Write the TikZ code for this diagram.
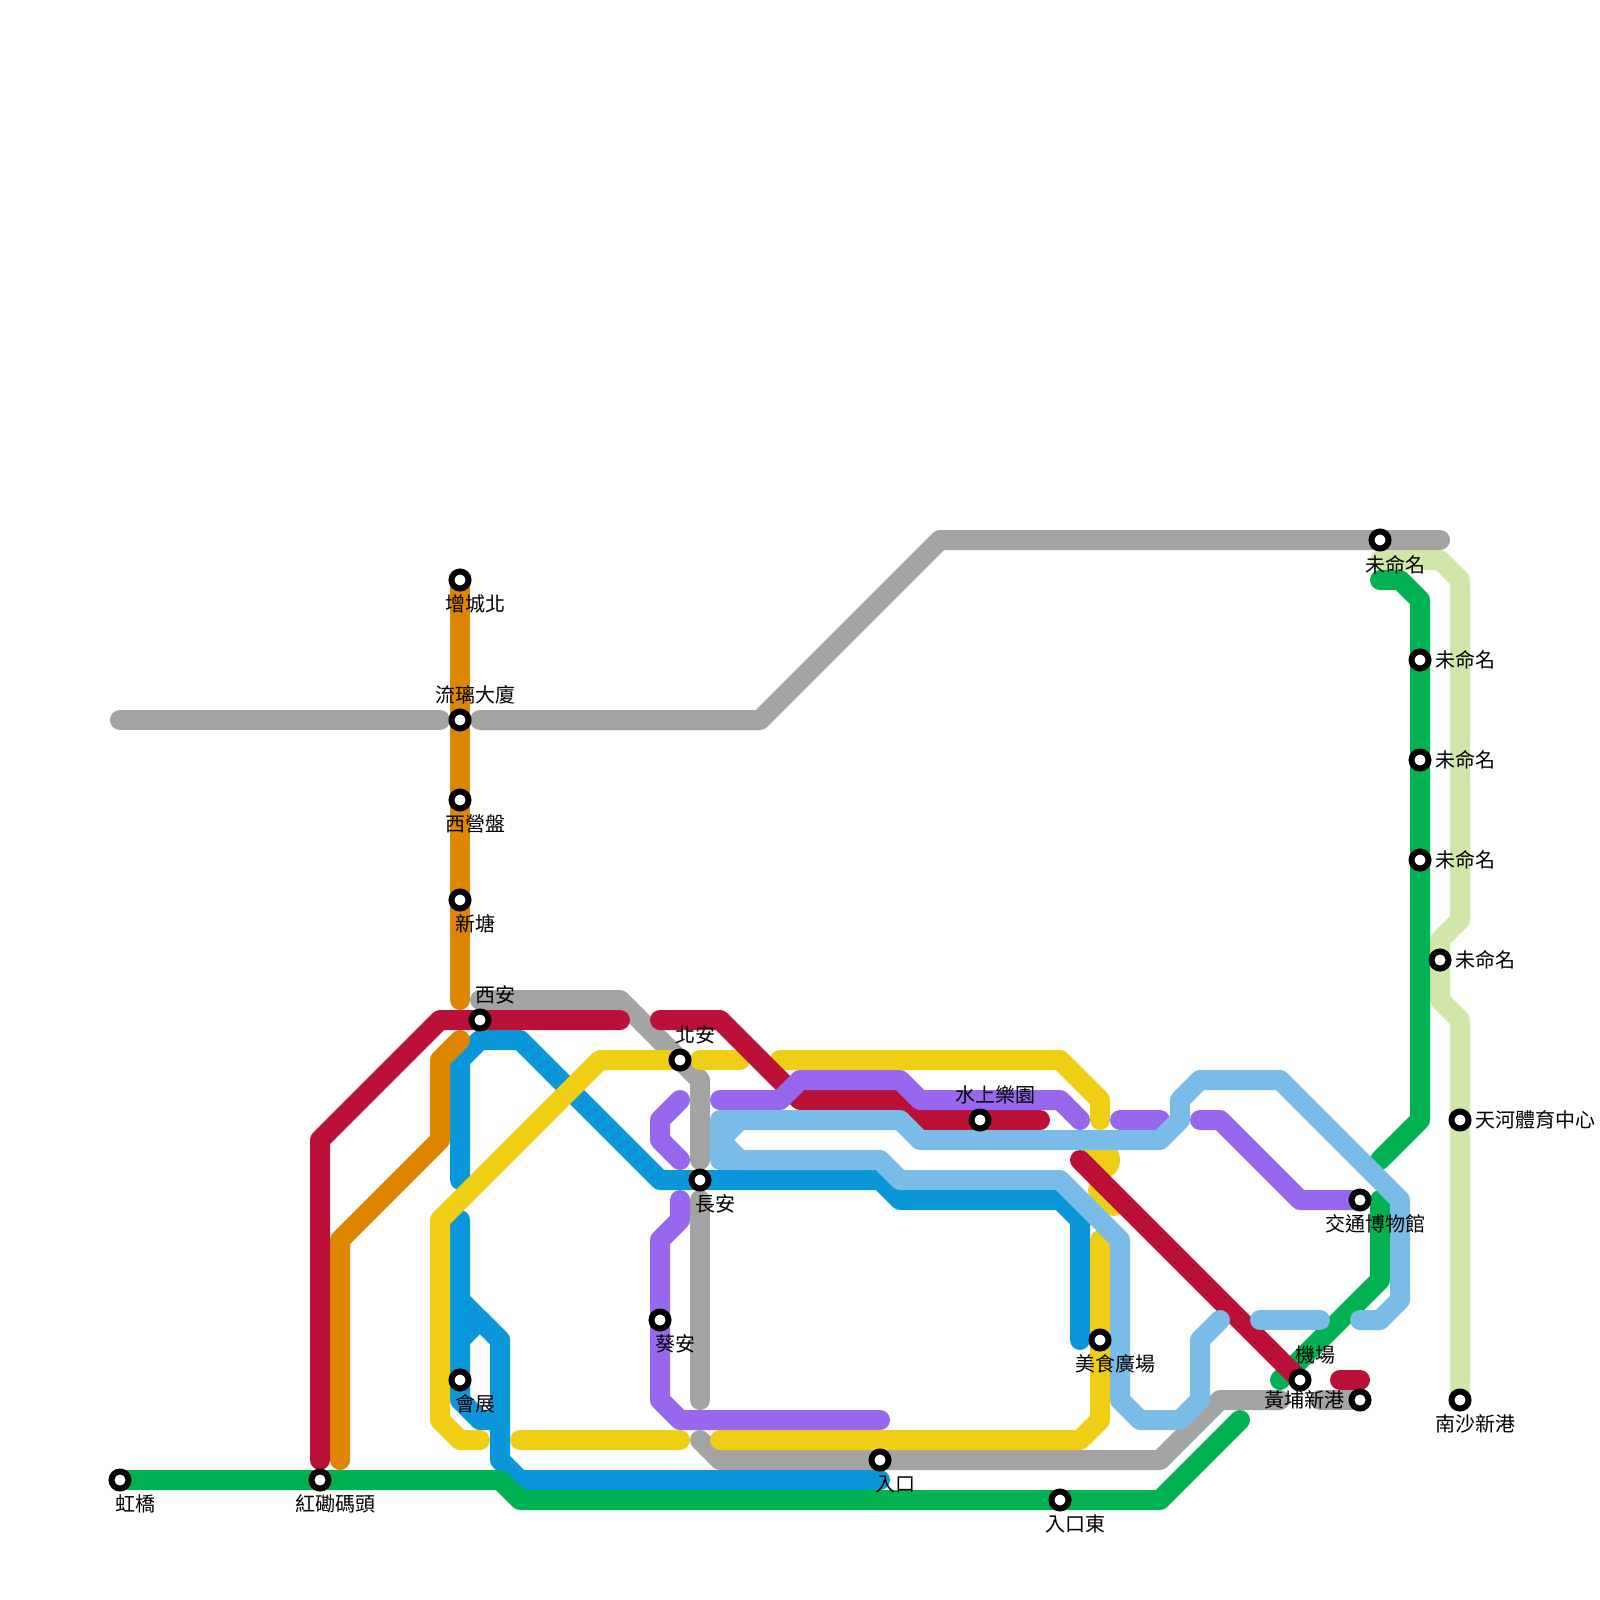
\documentclass[tikz,border=0pt]{standalone}
\usepackage{fontspec}
\setmainfont{Noto Sans CJK TC}
\usetikzlibrary{backgrounds}
\definecolor{lngray}{HTML}{A3A3A3}
\definecolor{lnred}{HTML}{BB1038}
\definecolor{lnorange}{HTML}{DF8600}
\definecolor{lnblue}{HTML}{0A97D9}
\definecolor{lnyellow}{HTML}{F0CE15}
\definecolor{lnpurple}{HTML}{9768ED}
\definecolor{lnsky}{HTML}{79BCE8}
\definecolor{lngreen}{HTML}{00B251}
\definecolor{lnpale}{HTML}{D1E6A9}

\begin{document}
\begin{tikzpicture}[
  x=1pt, y=-1pt,
  font=\fontsize{20}{24}\selectfont,
  ln/.style={line width=20pt, line cap=round, line join=round},
  stn/.style={circle, draw=black, fill=white, line width=6pt, minimum size=17pt, inner sep=0pt},
  lbl/.style={inner sep=0pt, text=black},
  lb/.style={lbl, xshift=15pt, yshift=-24pt},
  la/.style={lbl, xshift=15pt, yshift=25pt},
  lr/.style={lbl, anchor=west, xshift=15pt},
  ll/.style={lbl, anchor=east, xshift=-15pt}
]
\useasboundingbox (0,0) rectangle (1600,1600);

\node[stn] (hongqiao) at (120,1480) {};
\node[stn] (hunghom) at (320,1480) {};
\node[stn] (zengcheng) at (460,580) {};
\node[stn] (liuli) at (460,720) {};
\node[stn] (xiying) at (460,800) {};
\node[stn] (xintang) at (460,900) {};
\node[stn] (xian) at (480,1020) {};
\node[stn] (beian) at (680,1060) {};
\node[stn] (changan) at (700,1180) {};
\node[stn] (kwaian) at (660,1320) {};
\node[stn] (huizhan) at (460,1380) {};
\node[stn] (rukou) at (880,1460) {};
\node[stn] (rukoue) at (1060,1500) {};
\node[stn] (shuishang) at (980,1120) {};
\node[stn] (meishi) at (1100,1340) {};
\node[stn] (jiaotong) at (1360,1200) {};
\node[stn] (jichang) at (1300,1380) {};
\node[stn] (huangpu) at (1360,1400) {};
\node[stn] (weitop) at (1380,540) {};
\node[stn] (weia) at (1420,660) {};
\node[stn] (weib) at (1420,760) {};
\node[stn] (weic) at (1420,860) {};
\node[stn] (weid) at (1440,960) {};
\node[stn] (tianhe) at (1460,1120) {};
\node[stn] (nansha) at (1460,1400) {};

\node[lb] (hongqiaot) at (hongqiao) {虹橋};
\node[lb] (hunghomt) at (hunghom) {紅磡碼頭};
\node[lb] (zengchengt) at (zengcheng) {增城北};
\node[la] (liulit) at (liuli) {流璃大廈};
\node[lb] (xiyingt) at (xiying) {西營盤};
\node[lb] (xintangt) at (xintang) {新塘};
\node[la] (xiant) at (xian) {西安};
\node[la] (beiant) at (beian) {北安};
\node[lb] (changant) at (changan) {長安};
\node[lb] (kwaiant) at (kwaian) {葵安};
\node[lb] (huizhant) at (huizhan) {會展};
\node[lb] (rukout) at (rukou) {入口};
\node[lb] (rukouet) at (rukoue) {入口東};
\node[la] (shuishangt) at (shuishang) {水上樂園};
\node[lb] (meishit) at (meishi) {美食廣場};
\node[lb] (jiaotongt) at (jiaotong) {交通博物館};
\node[la] (jichangt) at (jichang) {機場};
\node[ll] (huangput) at (huangpu) {黃埔新港};
\node[lb, yshift=-1pt] (weitopt) at (weitop) {未命名};
\node[lr] (weiat) at (weia) {未命名};
\node[lr] (weibt) at (weib) {未命名};
\node[lr] (weict) at (weic) {未命名};
\node[lr] (weidt) at (weid) {未命名};
\node[lr] (tianhet) at (tianhe) {天河體育中心};
\node[lb] (nanshat) at (nansha) {南沙新港};

\begin{scope}[on background layer]
% pale line
\draw[ln, lnpale] (1380,560) -- (1440,560) -- (1460,580) -- (1460,920) -- (1440,940) -- (weid.center) -- (1440,1000) -- (1460,1020) -- (tianhe.center) -- (nansha.center);
% gray pieces
\draw[ln, lngray] (hongqiao |- liuli) -- (440,720);
\draw[ln, lngray] (480,720) -- (760,720) -- (940,540) -- (weitop.center) -- (1440,540);
\draw[ln, lngray] (480,1000) -- (620,1000) -- (beian.center) -- (700,1080) -- (700,1160);
\draw[ln, lngray] (700,1200) -- (700,1400);
\draw[ln, lngray] (700,1440) -- (720,1460) -- (rukou.center) -- (1160,1460) -- (1220,1400) -- (1280,1400);
\draw[ln, lngray] (1320,1400) -- (huangpu.center);
% blue pieces
\draw[ln, lnblue] (460,1180) -- (460,1060) -- (480,1040) -- (520,1040) -- (660,1180) -- (changan.center) -- (880,1180) -- (900,1200) -- (1060,1200) -- (1080,1220) -- (1080,1340);
\draw[ln, lnblue] (460,1220) -- (460,1300) -- (500,1340) -- (500,1460) -- (520,1480) -- (880,1480);
\draw[ln, lnblue] (460,1300) -- (huizhan.center) -- (460,1400) -- (480,1420) -- (500,1420);
\draw[ln, lnblue] (500,1340) -- (480,1320) -- (460,1340);
% green pieces
\draw[ln, lngreen] (hongqiao.center) -- (hunghom.center) -- (500,1480) -- (520,1500) -- (rukoue.center) -- (1160,1500) -- (1240,1420);
\draw[ln, lngreen] (1380,580) -- (1400,580) -- (1420,600) -- (weia.center) -- (weib.center) -- (weic.center) -- (1420,1120) -- (1380,1160);
\draw[ln, lngreen] (1380,1200) -- (1380,1280) -- (1280,1380);
% orange pieces
\draw[ln, lnorange] (zengcheng.center) -- (liuli.center) -- (xiying.center) -- (xintang.center) -- (460,1000);
\draw[ln, lnorange] (340,1460) -- (340,1240) -- (440,1140) -- (440,1060) -- (460,1040);
% yellow pieces
\draw[ln, lnyellow] (beian.center) -- (600,1060) -- (440,1220) -- (440,1420) -- (460,1440) -- (480,1440);
\draw[ln, lnyellow] (700,1060) -- (740,1060);
\draw[ln, lnyellow] (780,1060) -- (1060,1060) -- (1100,1100) -- (1100,1120);
\fill[lnyellow] (1100,1160) circle (20pt);
\draw[ln, lnyellow] (1098,1190) -- (1114,1206);
\draw[ln, lnyellow] (1100,1240) -- (meishi.center) -- (1100,1420) -- (1080,1440) -- (720,1440);
\draw[ln, lnyellow] (520,1440) -- (680,1440);
% red pieces
\draw[ln, lnred] (320,1460) -- (320,1140) -- (440,1020) -- (xian.center) -- (620,1020);
\draw[ln, lnred] (660,1020) -- (720,1020) -- (800,1100) -- (900,1100) -- (920,1120) -- (shuishang.center) -- (1040,1120);
\draw[ln, lnred] (1080,1160) -- (jichang.center);
\draw[ln, lnred] (1340,1380) -- (1360,1380);
% purple pieces
\draw[ln, lnpurple] (680,1100) -- (660,1120) -- (660,1140) -- (680,1160);
\draw[ln, lnpurple] (720,1100) -- (780,1100) -- (800,1080) -- (900,1080) -- (920,1100) -- (1060,1100) -- (1080,1120);
\draw[ln, lnpurple] (1120,1120) -- (1160,1120);
\draw[ln, lnpurple] (1200,1120) -- (1220,1120) -- (1300,1200) -- (jiaotong.center);
\draw[ln, lnpurple] (680,1200) -- (680,1220) -- (660,1240) -- (kwaian.center) -- (660,1400) -- (680,1420) -- (880,1420);
% sky pieces
\draw[ln, lnsky] (720,1140) -- (740,1120) -- (900,1120) -- (920,1140) -- (1160,1140) -- (1180,1120) -- (1180,1100) -- (1200,1080) -- (1280,1080) -- (1400,1200) -- (1400,1300) -- (1380,1320) -- (1360,1320);
\draw[ln, lnsky] (720,1140) -- (740,1160) -- (880,1160) -- (900,1180) -- (1060,1180) -- (1120,1240) -- (1120,1400) -- (1140,1420) -- (1180,1420) -- (1200,1400) -- (1200,1340) -- (1220,1320);
\draw[ln, lnsky] (740,1120) -- (720,1120) -- (720,1160) -- (740,1160);
\draw[ln, lnsky] (1260,1320) -- (1320,1320);
\end{scope}
\end{tikzpicture}
\end{document}
